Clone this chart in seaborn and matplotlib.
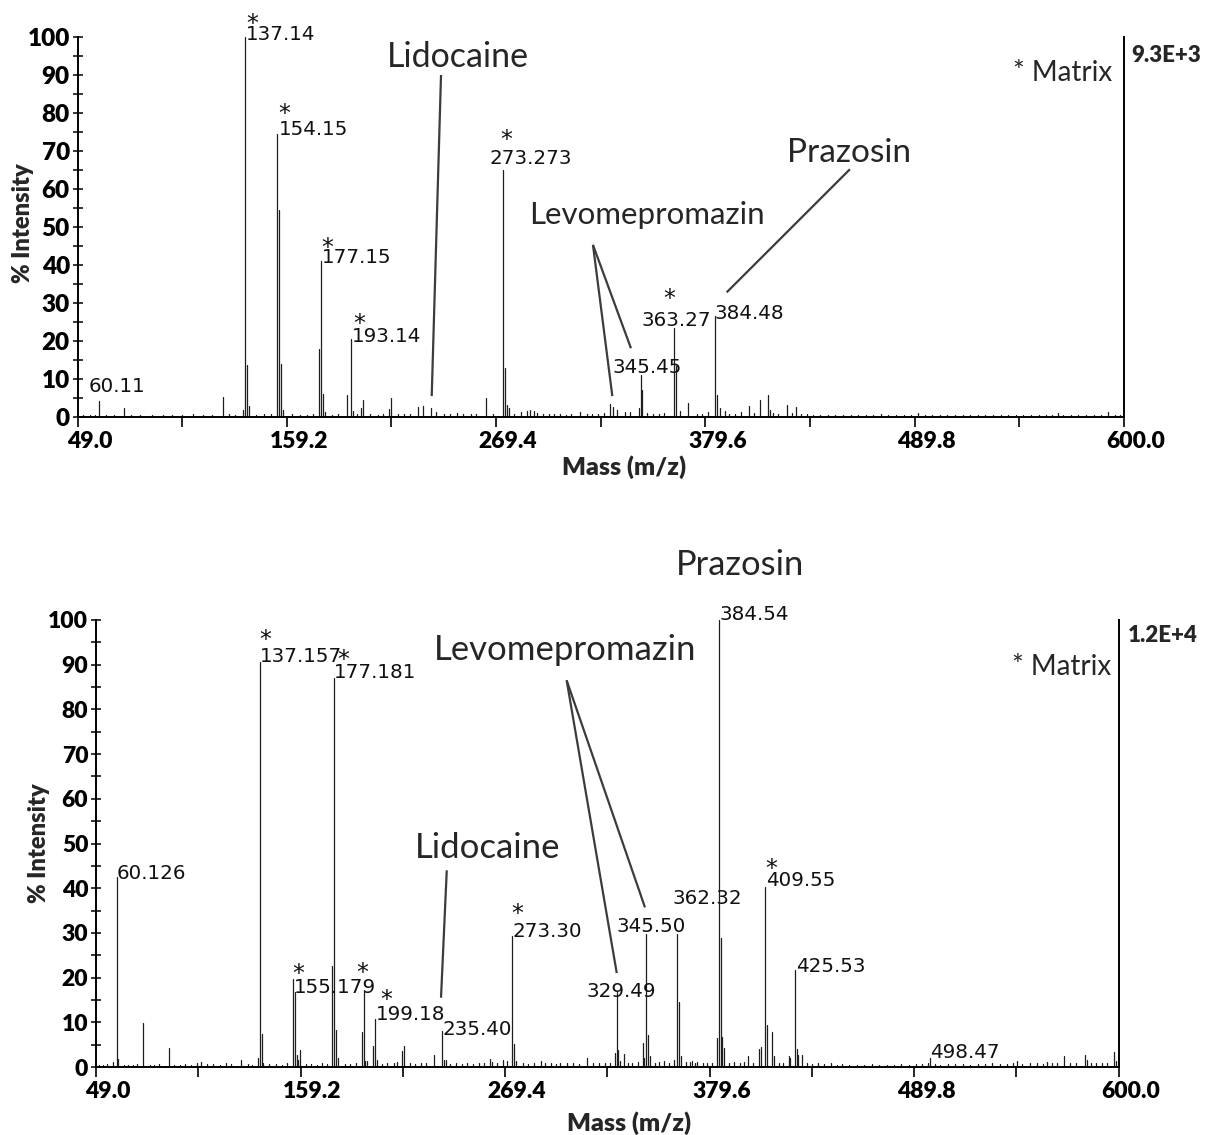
import numpy as np
import pandas as pd
import matplotlib
matplotlib.use("Agg")
import matplotlib.pyplot as plt
import matplotlib.transforms as mtransforms
from matplotlib.ticker import FixedLocator, MultipleLocator
import seaborn as sns

sns.set_theme(style="white")
plt.rcParams["font.family"] = ["DejaVu Sans"]

# ---------------- upper spectrum (9.3E+3) ----------------
top_label_str = ["60.11", "137.14", "154.15", "177.15", "193.14",
                 "273.273", "345.45", "363.27", "384.48"]
top_label_pct = [4.3, 100.0, 74.5, 41.0, 20.5, 65.0, 11.0, 23.3, 26.5]
top_matrix = ["137.14", "154.15", "177.15", "193.14", "273.273", "363.27"]

top_other_mz = [73.4, 125.8, 136.1, 138.1, 139.1, 155.15, 156.1, 157.4, 176.1,
                178.15, 179.1, 191.1, 194.1, 198.3, 199.2, 213.2, 214.1, 228.3,
                230.9, 235.3, 237.6, 249.0, 264.0, 274.27, 275.3, 276.3, 282.4,
                285.5, 287.1, 289.2, 291.0, 313.5, 329.4, 331.2, 333.0, 337.3,
                344.4, 346.45, 364.3, 366.0, 370.2, 385.5, 387.5, 389.8, 398.3,
                402.5, 408.3, 412.5, 413.6, 422.8, 427.1,
                52.0, 55.5, 58.0, 64.0, 68.0, 77.0, 82.0, 88.0, 94.0, 99.0,
                104.0, 110.0, 115.0, 120.0, 129.0, 132.0, 143.0, 147.0, 151.0,
                162.0, 166.0, 170.0, 173.0, 183.0, 186.0, 196.0, 203.0, 207.0,
                210.0, 218.0, 221.0, 224.0, 242.0, 245.0, 252.0, 256.0, 259.0,
                268.0, 279.0, 294.0, 297.0, 300.0, 303.0, 306.0, 309.0, 317.0,
                320.0, 323.0, 326.0, 340.0, 349.0, 352.0, 355.0, 358.0, 375.0,
                378.0, 381.0, 392.0, 395.0, 405.0, 415.0, 418.0, 425.0, 430.0,
                433.0, 436.0, 440.0, 444.0, 448.0, 452.0, 456.0, 460.0, 464.0,
                468.0, 472.0, 476.0, 480.0, 484.0, 488.0, 491.7, 495.0, 499.0,
                503.0, 507.0, 511.0, 515.0, 519.0, 523.0, 527.0, 531.0, 535.0,
                539.0, 543.0, 547.0, 551.0, 555.0, 559.0, 562.0, 565.0, 568.0,
                572.0, 576.0, 580.0, 584.0, 588.0, 591.6, 595.0, 598.0]
top_other_pct = [2.4, 5.2, 1.8, 13.8, 3.0, 54.5, 14.0, 1.9, 17.8,
                 6.0, 1.2, 5.8, 1.5, 2.4, 4.6, 2.0, 5.0, 2.7,
                 2.8, 2.3, 1.4, 1.1, 5.0, 13.0, 3.2, 2.4, 1.2,
                 1.6, 1.8, 1.5, 1.0, 1.2, 3.3, 2.6, 1.8, 1.4,
                 2.5, 7.0, 13.4, 1.7, 3.8, 5.8, 2.3, 1.5, 1.2,
                 2.9, 4.5, 5.8, 1.8, 3.2, 2.6,
                 0.5, 0.6, 0.4, 0.5, 0.4, 0.6, 0.4, 0.5, 0.4, 0.6,
                 0.5, 0.7, 0.4, 0.5, 0.8, 0.6, 0.6, 0.7, 0.8,
                 0.7, 0.6, 0.5, 0.7, 0.6, 0.9, 0.8, 0.7, 0.6,
                 0.8, 0.9, 0.7, 0.8, 0.9, 0.7, 0.8, 0.9, 0.7,
                 0.8, 0.9, 0.8, 0.9, 0.7, 0.8, 0.6, 0.9, 0.8,
                 0.9, 0.7, 1.0, 1.2, 1.0, 0.8, 0.9, 1.1, 0.8,
                 0.7, 1.2, 0.9, 0.8, 1.1, 1.0, 0.9, 1.1, 0.9,
                 0.7, 0.6, 0.5, 0.6, 0.5, 0.6, 0.4, 0.5, 0.6,
                 0.5, 0.8, 0.5, 0.6, 0.5, 0.6, 1.0, 0.5, 0.6,
                 0.4, 0.5, 0.6, 0.4, 0.5, 0.6, 0.5, 0.4, 0.6,
                 0.5, 0.6, 0.4, 0.5, 0.6, 0.5, 0.6, 1.0, 0.5,
                 0.4, 0.6, 0.5, 0.4, 0.5, 1.4, 0.5, 0.6]

# ---------------- lower spectrum (1.2E+4) ----------------
bot_label_str = ["60.126", "137.157", "155.179", "177.181", "199.18", "235.40",
                 "273.30", "329.49", "345.50", "362.32", "384.54", "409.55",
                 "425.53", "498.47"]
bot_label_pct = [42.4, 90.5, 19.7, 87.0, 10.7, 8.0, 29.2, 16.8, 29.7, 29.7,
                 100.0, 40.3, 21.7, 2.1]
bot_matrix_mz = [137.157, 155.179, 177.181, 193.2, 199.18, 273.30, 409.55]

bot_other_mz = [57.9, 61.1, 74.1, 88.1, 103.2, 105.8, 127.1, 136.1, 138.2, 139.2,
                156.18, 157.2, 158.1, 159.1, 176.2, 178.2, 179.2, 192.2, 193.2,
                194.2, 195.2, 198.2, 200.2, 209.5, 211.0, 214.0, 215.1, 231.1,
                236.4, 237.4, 255.5, 261.5, 262.3, 268.5, 270.7, 274.3, 275.3,
                288.6, 299.0, 313.4, 328.5, 330.5, 331.4, 333.5, 335.5, 343.5,
                344.3, 346.5, 347.6, 355.2, 360.4, 363.3, 364.4, 367.0, 370.0,
                373.0, 376.0, 383.5, 385.54, 386.5, 387.5, 390.0, 393.0, 400.1,
                406.4, 407.4, 410.5, 413.4, 414.4, 422.2, 423.1, 426.5, 427.5,
                429.4, 438.2, 445.0, 497.2, 545.1, 561.2, 570.7, 581.9, 582.9,
                597.5, 598.5,
                50.5, 53.0, 55.0, 64.0, 66.5, 69.0, 71.0, 78.0, 80.5, 83.0,
                91.0, 94.0, 97.0, 100.0, 109.0, 112.0, 116.0, 119.0, 122.0,
                131.0, 133.0, 142.0, 146.0, 149.0, 152.0, 162.0, 165.0, 168.0,
                171.0, 173.5, 183.0, 186.0, 189.0, 203.0, 206.0, 218.0, 221.0,
                224.0, 227.0, 240.0, 243.0, 246.0, 249.0, 252.0, 258.0, 265.0,
                279.0, 282.0, 285.0, 291.0, 294.0, 297.0, 303.0, 306.0, 309.0,
                317.0, 320.0, 323.0, 326.0, 338.0, 341.0, 350.0, 352.5, 358.0,
                369.0, 372.0, 378.0, 381.0, 396.0, 398.0, 403.0, 417.0, 419.0,
                432.0, 435.0, 441.0, 448.0, 451.0, 455.0, 459.0, 463.0, 467.0,
                471.0, 475.0, 479.0, 483.0, 487.0, 491.0, 494.0, 501.0, 504.0,
                508.0, 512.0, 516.0, 520.0, 524.0, 528.0, 532.0, 536.0, 540.0,
                543.0, 548.0, 552.0, 556.0, 559.0, 564.0, 567.0, 574.0, 577.0,
                585.0, 588.0, 591.0, 594.0]
bot_other_pct = [1.2, 1.7, 9.9, 4.3, 1.0, 1.1, 1.5, 2.1, 7.3, 1.0,
                 16.8, 2.7, 1.5, 3.9, 22.5, 8.3, 2.0, 7.8, 17.2,
                 1.4, 1.4, 4.6, 1.5, 1.0, 1.1, 3.5, 4.8, 2.7,
                 1.5, 1.6, 1.0, 1.8, 1.2, 1.6, 1.4, 5.1, 1.3,
                 1.4, 1.0, 2.0, 3.2, 3.8, 1.4, 3.0, 1.0, 5.3,
                 2.0, 7.2, 2.5, 1.4, 1.5, 14.6, 2.4, 1.2, 1.3,
                 1.2, 1.0, 6.5, 28.8, 6.6, 4.3, 1.0, 1.2, 2.4,
                 4.0, 4.4, 9.4, 7.8, 2.4, 2.4, 2.1, 4.0, 2.6,
                 2.7, 1.0, 0.8, 1.0, 1.4, 1.2, 2.4, 2.7, 1.6,
                 3.4, 1.4,
                 0.4, 0.5, 0.6, 0.4, 0.5, 0.4, 0.6, 0.5, 0.4, 0.6,
                 0.5, 0.4, 0.6, 0.5, 0.6, 0.7, 0.5, 0.8, 0.6,
                 0.7, 0.5, 0.6, 0.7, 0.5, 0.8, 0.7, 0.6, 0.5,
                 0.8, 0.6, 0.7, 0.6, 0.8, 0.7, 0.9, 0.8, 0.7,
                 0.9, 0.8, 0.7, 0.9, 0.6, 0.8, 0.7, 0.9, 0.8,
                 0.9, 0.7, 1.0, 0.8, 0.9, 0.6, 0.8, 0.9, 0.7,
                 0.8, 0.9, 1.0, 0.8, 1.0, 1.1, 0.9, 1.1, 1.0,
                 1.1, 0.9, 1.0, 0.8, 0.9, 1.1, 0.9, 1.0, 0.9,
                 0.8, 0.7, 0.6, 0.5, 0.6, 0.5, 0.4, 0.5, 0.6,
                 0.5, 0.4, 0.5, 0.6, 0.5, 0.6, 0.7, 0.6, 0.5,
                 0.6, 0.7, 0.6, 0.5, 0.7, 0.6, 0.8, 0.6, 0.7,
                 0.9, 0.7, 0.8, 0.9, 0.7, 0.8, 0.9, 0.8, 1.0,
                 0.9, 0.8, 1.0, 0.9]

x_major = [49.0, 159.2, 269.4, 379.6, 489.8, 600.0]

CAL = "Lato"
INK = "#1e1e1e"
HEAVY = "heavy"


def stick_frame(mz, pct):
    mz = np.asarray(mz, float)
    pct = np.asarray(pct, float)
    n = len(mz)
    return pd.DataFrame({
        "mz": np.repeat(mz, 2),
        "pct": np.column_stack([np.zeros(n), pct]).ravel(),
        "peak": np.repeat(np.arange(n), 2),
    })


def draw_spectrum(ax, label_str, label_pct, other_mz, other_pct):
    mz = [float(s) for s in label_str] + list(other_mz)
    pct = list(label_pct) + list(other_pct)
    df = stick_frame(mz, pct)
    sns.lineplot(data=df, x="mz", y="pct", units="peak", estimator=None,
                 sort=False, color=INK, lw=0.9, ax=ax, legend=False)
    return np.array(mz), np.array(pct)


def style_axes(ax, ytick_size, xtick_size):
    ax.set_xlim(49.0, 600.0)
    ax.set_ylim(0, 100)
    for side in ("left", "bottom", "right"):
        ax.spines[side].set_visible(True)
        ax.spines[side].set_color("black")
        ax.spines[side].set_linewidth(1.4)
    ax.spines["top"].set_visible(False)
    ax.xaxis.set_major_locator(FixedLocator(x_major))
    ax.xaxis.set_minor_locator(FixedLocator([v + 55.1 for v in x_major[:-1]]))
    ax.yaxis.set_major_locator(MultipleLocator(10))
    ax.yaxis.set_minor_locator(MultipleLocator(5))
    ax.set_xticklabels([f"{v:.1f}" for v in x_major])
    ax.tick_params(axis="x", which="both", direction="out", length=7, width=1.2,
                   bottom=True, pad=3, colors="black")
    ax.tick_params(axis="y", which="both", direction="inout", length=7, width=1.1,
                   left=True, right=False, pad=2, colors="black")
    shift = mtransforms.ScaledTranslation(12 / 100, 0, ax.figure.dpi_scale_trans)
    for lab in ax.get_xticklabels():
        lab.set_fontfamily(CAL)
        lab.set_fontweight(HEAVY)
        lab.set_fontsize(xtick_size)
        lab.set_transform(lab.get_transform() + shift)
    for lab in ax.get_yticklabels():
        lab.set_fontfamily(CAL)
        lab.set_fontweight(HEAVY)
        lab.set_fontsize(ytick_size)
    ax.set_xlabel("Mass (m/z)", fontfamily=CAL, fontweight=HEAVY, fontsize=18)
    ax.set_ylabel("% Intensity", fontfamily=CAL, fontweight=HEAVY, fontsize=17)
    ax.grid(False)


def peak_labels(ax, label_str, label_pct, offsets):
    for s, h in zip(label_str, label_pct):
        dx, dy = offsets[s]
        ax.annotate(s, xy=(float(s), h), xytext=(dx, dy - 2),
                    textcoords="offset pixels", ha="left", va="center",
                    fontsize=14.3, color="#111111", annotation_clip=False)


def stars(ax, mz_list, all_mz, all_pct, offsets):
    for m, (dx, dy) in zip(mz_list, offsets):
        h = all_pct[np.argmin(np.abs(all_mz - m))]
        ax.annotate("*", xy=(m, h), xytext=(dx, dy - 7),
                    textcoords="offset pixels", ha="center", va="center",
                    fontsize=17, color="#111111", annotation_clip=False)


def pointer(ax, start, end):
    ax.plot([start[0], end[0]], [start[1], end[1]], color="#3c3c3c", lw=1.6,
            solid_capstyle="butt", clip_on=False)


fig = plt.figure(figsize=(12.14, 11.35), dpi=100)
ax1 = fig.add_axes([77.5 / 1214, 718 / 1135, 1046.5 / 1214, 380 / 1135])
ax2 = fig.add_axes([96 / 1214, 68 / 1135, 1022.6 / 1214, 447 / 1135])

# ---- upper panel ----
mz1, pct1 = draw_spectrum(ax1, top_label_str, top_label_pct, top_other_mz, top_other_pct)
style_axes(ax1, 17.5, 16.5)
ax1.yaxis.set_label_coords(-0.042, 0.51)
ax1.xaxis.set_label_coords(0.522, -0.100)

top_text_off = {"60.11": (-10, 16), "137.14": (1, 5), "154.15": (2, 6),
                "177.15": (1, 6), "193.14": (1, 5), "273.273": (-14, 13),
                "345.45": (-28, 10), "363.27": (-33, 10), "384.48": (0, 5)}
peak_labels(ax1, top_label_str, top_label_pct, top_text_off)
stars(ax1, [float(s) for s in top_matrix], mz1, pct1,
      [(7, 20), (7, 27), (6, 20), (8, 22), (3, 37), (-5, 36)])

ax1.text(249.3, 94.7, "Lidocaine", ha="center", va="center", fontsize=24.5,
         fontfamily=CAL, clip_on=False)
pointer(ax1, (240.4, 90.0), (235.5, 5.5))
ax1.text(348.8, 53.2, "Levomepromazin", ha="center", va="center", fontsize=22.5,
         fontfamily=CAL, clip_on=False)
pointer(ax1, (320.4, 45.3), (330.6, 5.5))
pointer(ax1, (320.4, 45.3), (340.4, 18.1))
ax1.text(455.2, 69.5, "Prazosin", ha="center", va="center", fontsize=24,
         fontfamily=CAL, clip_on=False)
pointer(ax1, (455.7, 65.2), (390.8, 32.8))

ax1.annotate("9.3E+3", xy=(1, 1), xycoords="axes fraction", xytext=(7, -18),
             textcoords="offset pixels", ha="left", va="center", fontsize=16,
             fontweight=HEAVY, fontfamily=CAL, annotation_clip=False)
ax1.annotate("* Matrix", xy=(1, 1), xycoords="axes fraction", xytext=(-12, -36),
             textcoords="offset pixels", ha="right", va="center", fontsize=20,
             fontfamily=CAL, annotation_clip=False)

# ---- lower panel ----
mz2, pct2 = draw_spectrum(ax2, bot_label_str, bot_label_pct, bot_other_mz, bot_other_pct)
style_axes(ax2, 16.5, 16.5)
ax2.yaxis.set_label_coords(-0.045, 0.50)
ax2.xaxis.set_label_coords(0.521, -0.100)

bot_text_off = {"60.126": (0, 6), "137.157": (0, 8), "155.179": (1, -7),
                "177.181": (0, 8), "199.18": (1, 7), "235.40": (1, 4),
                "273.30": (0, 7), "329.49": (-30, 2), "345.50": (-30, 10),
                "362.32": (-5, 38), "384.54": (1, 7), "409.55": (1, 8),
                "425.53": (1, 6), "498.47": (0, 7)}
peak_labels(ax2, bot_label_str, bot_label_pct, bot_text_off)
stars(ax2, bot_matrix_mz, mz2, pct2,
      [(6, 29), (5, 12), (9, 25), (-1, 24), (12, 26), (5, 29), (6, 25)])

ax2.text(396.0, 112.3, "Prazosin", ha="center", va="center", fontsize=24.8,
         fontfamily=CAL, clip_on=False)
ax2.text(301.7, 93.3, "Levomepromazin", ha="center", va="center", fontsize=25,
         fontfamily=CAL, clip_on=False)
pointer(ax2, (302.6, 86.5), (329.6, 21.0))
pointer(ax2, (302.6, 86.5), (344.8, 35.7))
ax2.text(260.2, 49.0, "Lidocaine", ha="center", va="center", fontsize=25,
         fontfamily=CAL, clip_on=False)
pointer(ax2, (238.0, 44.0), (234.9, 15.5))

ax2.annotate("1.2E+4", xy=(1, 1), xycoords="axes fraction", xytext=(9, -15),
             textcoords="offset pixels", ha="left", va="center", fontsize=16,
             fontweight=HEAVY, fontfamily=CAL, annotation_clip=False)
ax2.annotate("* Matrix", xy=(1, 1), xycoords="axes fraction", xytext=(-7, -47),
             textcoords="offset pixels", ha="right", va="center", fontsize=20,
             fontfamily=CAL, annotation_clip=False)

fig.savefig("out.png", dpi=100, facecolor="white")
